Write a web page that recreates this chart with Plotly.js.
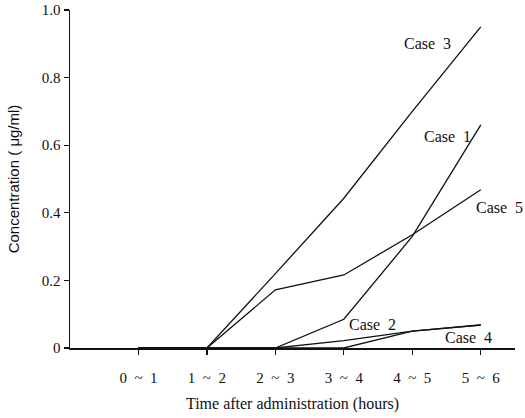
<!DOCTYPE html>
<html><head><meta charset="utf-8">
<script src="https://cdn.plot.ly/plotly-3.0.1.min.js"></script>
<style>html,body{margin:0;padding:0;background:#fff}</style>
</head><body><div id="chart" style="width:525px;height:418px"></div>
<script>
const timeLabels = ["0\u00a0\u00a0~\u00a0\u00a01","1\u00a0\u00a0~\u00a0\u00a02","2\u00a0\u00a0~\u00a0\u00a03","3\u00a0\u00a0~\u00a0\u00a04","4\u00a0\u00a0~\u00a0\u00a05","5\u00a0\u00a0~\u00a0\u00a06"];
const timeIdx = [0,1,2,3,4,5];
const case1 = [0,0,0,0.085,0.33,0.66];
const case2 = [0,0,0,0.022,0.05,0.068];
const case3 = [0,0,0.22,0.443,0.70,0.95];
const case4 = [0,0,0,0,0.05,0.068];
const case5 = [0,0,0.172,0.216,0.335,0.468];
const caseNames = ["Case\u00a0\u00a01","Case\u00a0\u00a02","Case\u00a0\u00a03","Case\u00a0\u00a04","Case\u00a0\u00a05"];
const yTickVals = [0,0.2,0.4,0.6,0.8,1.0];
const yTickText = ["0","0.2","0.4","0.6","0.8","1.0"];

const series = [case1, case2, case3, case4, case5];
const traces = series.map((s,i)=>({
  x: timeIdx, y: s, type:'scatter', mode:'lines', name: caseNames[i],
  line:{color:'#111', width:1.3}, showlegend:false
}));

const labelPos = [
  {x:4.52, y:0.625},
  {x:3.42, y:0.071},
  {x:4.22, y:0.90},
  {x:4.82, y:0.03},
  {x:5.27, y:0.415}
];
const annotations = labelPos.map((p,i)=>({
  x:p.x, y:p.y, xref:'x', yref:'y', text: caseNames[i], showarrow:false,
  font:{family:'Liberation Serif, serif', size:16, color:'#111'}
}));

const layout = {
  width:525, height:418,
  margin:{l:70, r:10, t:10, b:70},
  paper_bgcolor:'#fff', plot_bgcolor:'#fff',
  font:{family:'Liberation Serif, serif', color:'#111'},
  xaxis:{
    range:[-1,5.5], showgrid:false, zeroline:false,
    showline:true, linecolor:'#111', linewidth:1.5,
    tickmode:'array', tickvals:timeIdx, ticktext:timeLabels,
    ticks:'outside', ticklen:5, tickcolor:'#111', tickwidth:1.2,
    ticklabelstandoff:10,
    tickfont:{family:'Liberation Serif, serif', size:15, color:'#111'},
    title:{text:'Time after administration (hours)', standoff:13,
      font:{family:'Liberation Serif, serif', size:16, color:'#111'}}
  },
  yaxis:{
    range:[0,1.0], showgrid:false, zeroline:false,
    showline:true, linecolor:'#111', linewidth:1.5,
    tickmode:'array', tickvals:yTickVals, ticktext:yTickText,
    ticks:'outside', ticklen:5, tickcolor:'#111', tickwidth:1.2,
    tickfont:{family:'Liberation Serif, serif', size:15, color:'#111'},
    title:{text:'Concentration ( μg/ml)', standoff:18,
      font:{family:'Liberation Sans, sans-serif', size:15, color:'#111'}}
  },
  annotations: annotations
};
Plotly.newPlot('chart', traces, layout, {displayModeBar:false, staticPlot:true});
</script></body></html>
